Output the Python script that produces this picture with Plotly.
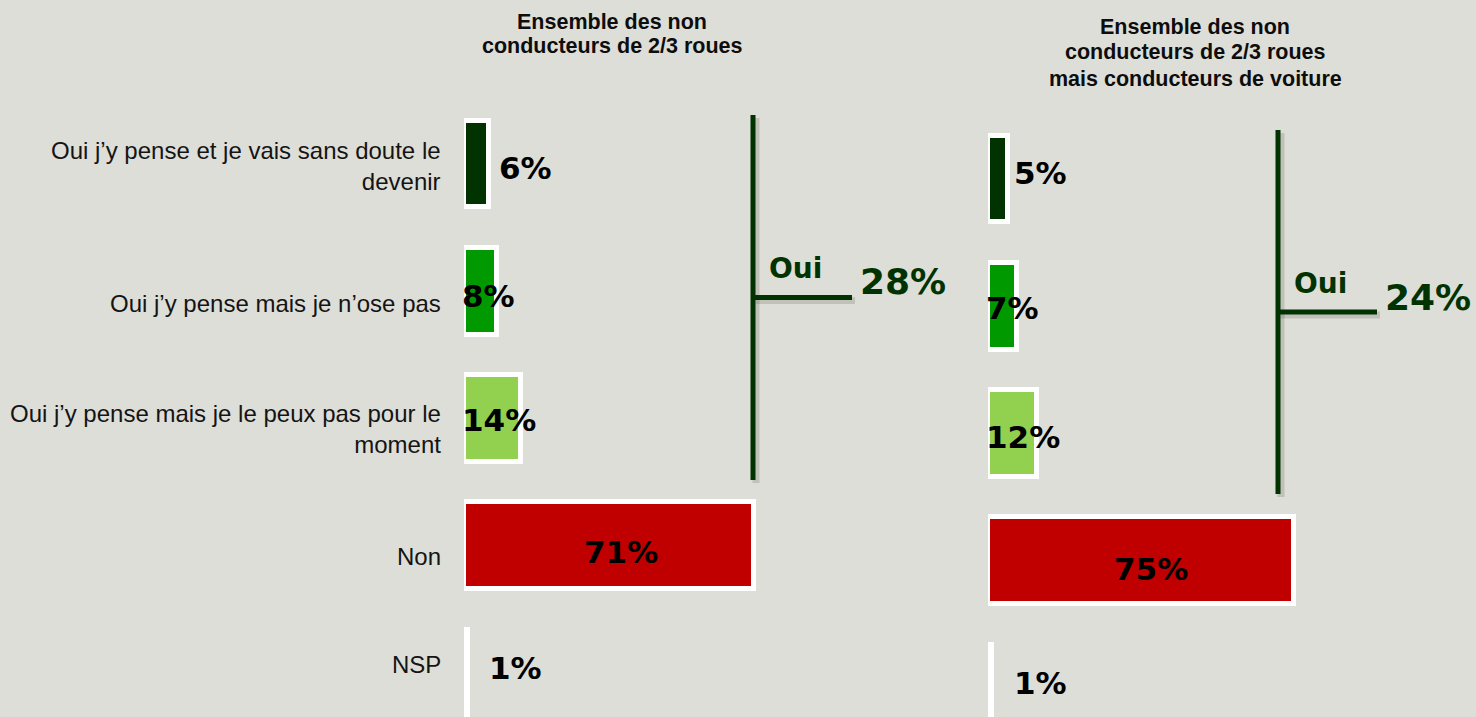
import plotly.graph_objects as go

# ---- data -------------------------------------------------------------
categories = [
    "Oui j’y pense et je vais sans doute le devenir",
    "Oui j’y pense mais je n’ose pas",
    "Oui j’y pense mais je le peux pas pour le moment",
    "Non",
    "NSP",
]
category_labels = [
    "Oui j’y pense et je vais sans doute le<br>devenir",
    "Oui j’y pense mais je n’ose pas",
    "Oui j’y pense mais je le peux pas pour le<br>moment",
    "Non",
    "NSP",
]
values_all = [6, 8, 14, 71, 1]        # ensemble des non conducteurs de 2/3 roues
values_car = [5, 7, 12, 75, 1]        # ... mais conducteurs de voiture
oui_count = 3                          # the first three answers are "Oui"
title_all = ["Ensemble des non", "conducteurs de 2/3 roues"]
title_car = ["Ensemble des non", "conducteurs de 2/3 roues", "mais conducteurs de voiture"]

# ---- styling ------------------------------------------------------------
W, H = 1476, 717
BG = "#deded8"
DARK = "#003300"
bar_colors = ["#003300", "#009900", "#92d050", "#c00000", "#ffffff"]
PCT_FONT = dict(family="DejaVu Sans", size=31, color="#000000")
BIG_FONT = "DejaVu Sans"


def px(x):
    return x / W


def py(y):
    return 1 - y / H


# value label placement: (anchor mode, xshift, yshift) per bar
label_pos_all = [("end", 8, -4), ("base", -4, -5), ("base", -4, -1), ("center", 12, -6), ("end", 19, 5)]
label_pos_car = [("end", 4, 6), ("base", -4, -2), ("base", -4, -3), ("center", 10, -8), ("end", 20, 5)]

fig = go.Figure()
idx = list(range(len(categories)))

for vals, xa, ya in [(values_all, "x", "y"), (values_car, "x2", "y2")]:
    fig.add_trace(go.Bar(
        x=vals, y=idx, orientation="h", xaxis=xa, yaxis=ya,
        marker=dict(color=bar_colors, line=dict(color="#ffffff", width=5)),
        width=0.68, hoverinfo="skip", showlegend=False,
    ))

annotations = []

# value labels
for vals, pos, xr, yr in [(values_all, label_pos_all, "x", "y"),
                          (values_car, label_pos_car, "x2", "y2")]:
    for i, (v, (mode, dx, dy)) in enumerate(zip(vals, pos)):
        if mode == "end":
            xv, anc = v, "left"
        elif mode == "base":
            xv, anc = 0, "left"
        else:
            xv, anc = v / 2, "center"
        annotations.append(dict(
            x=xv, y=i, xref=xr, yref=yr, text=f"<b>{v}%</b>", showarrow=False,
            xanchor=anc, yanchor="middle", xshift=dx, yshift=dy, font=PCT_FONT,
        ))

# category labels (left side)
cat_shift = [-2, -12, -10, -11, 9]
for i, (lab, dy) in enumerate(zip(category_labels, cat_shift)):
    annotations.append(dict(
        x=px(443), y=i, xref="paper", yref="y", text=lab, showarrow=False,
        xanchor="right", yanchor="middle", align="right", yshift=dy,
        font=dict(family="Liberation Sans", size=24, color="#141414"),
    ))

# panel titles
for lines, cx, ys in [(title_all, 612, [22, 46.5]), (title_car, 1195, [27, 52, 79])]:
    for line, yy in zip(lines, ys):
        annotations.append(dict(
            x=px(cx), y=py(yy), xref="paper", yref="paper", text=f"<b>{line}</b>",
            showarrow=False, xanchor="center", yanchor="middle",
            font=dict(family="Liberation Sans", size=21.5, color="#0d0d0d"),
        ))

# "Oui" brackets with totals
shapes = []
brackets = [
    # vertical x, y top, y bottom, horizontal y, horizontal end, Oui pos, total pos
    (values_all, 753, 115, 480, 297.5, 852, (767, 268), (858, 281.5)),
    (values_car, 1278, 130, 494, 312, 1377, (1292, 283.5), (1383, 297.5)),
]
for vals, vx, vt, vb, hy, hx, oui_xy, tot_xy in brackets:
    total = sum(vals[:oui_count])
    for off, col, w in [(3, "rgba(60,60,50,0.18)", 7), (0, DARK, 5)]:
        shapes.append(dict(type="line", xref="paper", yref="paper",
                           x0=px(vx + off), x1=px(vx + off), y0=py(vt + off), y1=py(vb + off),
                           line=dict(color=col, width=w)))
        shapes.append(dict(type="line", xref="paper", yref="paper",
                           x0=px(vx + off), x1=px(hx + off), y0=py(hy + off), y1=py(hy + off),
                           line=dict(color=col, width=w)))
    annotations.append(dict(
        x=px(oui_xy[0]), y=py(oui_xy[1]), xref="paper", yref="paper", text="<b>Oui</b>",
        showarrow=False, xanchor="left", yanchor="middle",
        font=dict(family=BIG_FONT, size=28, color=DARK),
    ))
    annotations.append(dict(
        x=px(tot_xy[0]), y=py(tot_xy[1]), xref="paper", yref="paper", text=f"<b>{total}%</b>",
        showarrow=False, xanchor="left", yanchor="middle",
        font=dict(family=BIG_FONT, size=36, color=DARK),
    ))

# bar scale: ~4.085 px per percentage point in both panels
SCALE = 4.085
x0_all, x0_car = 464, 988
slot = 127.25
top_all, top_car = 164, 179

hidden = dict(showgrid=False, zeroline=False, showticklabels=False, showline=False, ticks="")
fig.update_layout(
    width=W, height=H, paper_bgcolor=BG, plot_bgcolor=BG,
    margin=dict(l=0, r=0, t=0, b=0), bargap=0,
    xaxis=dict(domain=[px(x0_all), px(x0_all + 100 * SCALE)], range=[0, 100], **hidden),
    xaxis2=dict(domain=[px(x0_car), px(x0_car + 100 * SCALE)], range=[0, 100], **hidden),
    yaxis=dict(domain=[0, 1], range=[-top_all / slot + H / slot, -top_all / slot], **hidden),
    yaxis2=dict(domain=[0, 1], anchor="x2", range=[-top_car / slot + H / slot, -top_car / slot], **hidden),
    annotations=annotations, shapes=shapes,
)
fig.data[1].update(xaxis="x2", yaxis="y2")
fig.update_layout(xaxis2=dict(anchor="y2"))

fig.write_html("out.html")
